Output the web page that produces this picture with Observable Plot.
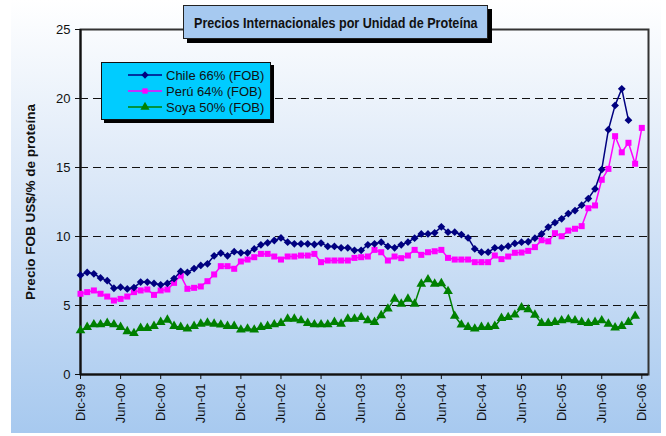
<!DOCTYPE html>
<html>
<head>
<meta charset="utf-8">
<script src="https://cdn.jsdelivr.net/npm/d3@7"></script>
<script src="https://cdn.jsdelivr.net/npm/@observablehq/plot@0.6"></script>
<style>
  html, body { margin: 0; padding: 0; background: #ffffff; }
  #wrap { position: relative; width: 666px; height: 436px; overflow: hidden; background: #ffffff; }
  #bg { position: absolute; left: 11px; top: 0; width: 650px; height: 433px;
        background: linear-gradient(to bottom, #ffffff 0%, #dde9f8 40%, #a7c9ef 100%); }
  #chart { position: absolute; left: 0; top: 0; }
  #title { position: absolute; left: 183px; top: 5px; width: 303px; height: 32px;
           background: #a6c9f0; border: 1px solid #222; box-shadow: 4px 4px 0 #000;
           font-family: "Liberation Sans", Arial, sans-serif;
           font-size: 15px; font-weight: bold; color: #111; display: flex;
           align-items: center; justify-content: center; white-space: nowrap; }
  #title span { display: inline-block; transform: scaleX(0.84); }
  #legend { position: absolute; left: 101px; top: 62px; width: 168px; height: 56px;
            background: #00ccff; border: 1px solid #111; box-shadow: 3px 3px 0 #000;
            font-family: "Liberation Sans", Arial, sans-serif;
            font-size: 13px; color: #111; }
  .row { position: absolute; left: 0; height: 16px; display: flex; align-items: center; white-space: nowrap; }
  .row svg { margin-left: 26px; margin-right: 4px; }
</style>
</head>
<body>
<div id="wrap">
  <div id="bg"></div>
  <div id="chart"></div>
  <div id="title"><span>Precios Internacionales por Unidad de Proteína</span></div>
  <div id="legend"></div>
</div>
<script>
// ---- categories (monthly, Dic-99 .. Ene-07) ----
const mesNames = ["Ene","Feb","Mar","Abr","May","Jun","Jul","Ago","Sep","Oct","Nov","Dic"];
const months = [];
for (let k = 0; k < 86; k++) {
  const m = (11 + k) % 12;
  const y = (99 + Math.floor((11 + k) / 12)) % 100;
  months.push(mesNames[m] + "-" + String(y).padStart(2, "0"));
}
const tickLabels = ["Dic-99","Jun-00","Dic-00","Jun-01","Dic-01","Jun-02","Dic-02","Jun-03",
                    "Dic-03","Jun-04","Dic-04","Jun-05","Dic-05","Jun-06","Dic-06"];
const yTicks = [0, 5, 10, 15, 20, 25];
const gridValues = [5, 10, 15, 20];

// ---- series (US$ per % protein), starting Dic-99 ----
const chile = [7.2,7.4,7.3,7.0,6.8,6.25,6.33,6.2,6.3,6.7,6.7,6.6,6.5,6.6,6.95,7.47,7.4,7.68,7.9,8.02,
  8.6,8.8,8.6,8.9,8.82,8.82,9.1,9.4,9.54,9.71,9.9,9.59,9.47,9.47,9.47,9.42,9.52,9.28,9.28,9.18,
  9.18,9.0,9.0,9.4,9.47,9.59,9.28,9.18,9.4,9.59,9.88,10.19,10.19,10.27,10.7,10.31,10.31,10.14,9.9,9.1,
  8.86,8.86,9.18,9.18,9.3,9.5,9.59,9.62,9.88,10.19,10.68,11.0,11.28,11.66,11.88,12.27,12.75,13.45,14.85,17.74,
  19.5,20.7,18.43];
const peru = [5.85,5.97,6.09,5.85,5.65,5.36,5.48,5.65,5.97,6.09,6.16,5.77,6.09,6.16,6.64,7.17,6.21,6.28,6.38,6.76,
  7.25,7.85,7.85,7.66,8.19,8.33,8.5,8.74,8.74,8.55,8.33,8.55,8.55,8.62,8.62,8.74,8.14,8.26,8.26,8.26,
  8.26,8.45,8.5,8.55,9.03,8.86,8.26,8.55,8.43,8.62,9.03,8.67,8.86,8.93,9.03,8.45,8.33,8.33,8.33,8.14,
  8.14,8.14,8.62,8.36,8.55,8.82,8.84,8.96,9.23,9.73,9.65,10.24,10.02,10.43,10.56,10.75,12.05,12.25,14.11,14.9,
  17.27,16.1,16.79,15.27,17.87];
const soya = [3.19,3.43,3.62,3.62,3.72,3.62,3.43,3.12,2.99,3.36,3.36,3.5,3.79,3.96,3.5,3.43,3.31,3.5,3.67,3.74,
  3.67,3.6,3.5,3.5,3.24,3.31,3.24,3.43,3.5,3.62,3.72,4.03,4.03,3.91,3.72,3.62,3.62,3.62,3.79,3.67,
  4.03,4.03,4.15,3.91,3.79,4.28,4.76,5.48,5.12,5.48,5.12,6.57,6.88,6.57,6.6,6.03,4.24,3.6,3.43,3.31,
  3.43,3.43,3.5,4.08,4.15,4.33,4.85,4.71,4.32,3.72,3.72,3.79,3.91,3.99,3.91,3.79,3.72,3.79,3.91,3.67,
  3.4,3.5,3.79,4.24];

const seriesNames = ["Chile 66% (FOB)", "Perú 64% (FOB)", "Soya 50% (FOB)"];
const seriesColors = ["#000080", "#ff00ff", "#008000"];
const seriesSymbols = ["diamond2", "square", "triangle"];

const toRows = (vals, s) => vals.map((v, i) => ({month: months[i], value: v, serie: s}));
const rowsChile = toRows(chile, seriesNames[0]);
const rowsPeru = toRows(peru, seriesNames[1]);
const rowsSoya = toRows(soya, seriesNames[2]);

const font = '"Liberation Sans", Arial, sans-serif';

const chart = Plot.plot({
  width: 666,
  height: 436,
  marginLeft: 80,
  marginRight: 18,
  marginTop: 29,
  marginBottom: 62,
  style: {background: "transparent", fontFamily: font, fontSize: "12px", color: "#111", overflow: "visible"},
  x: {type: "point", domain: months, padding: 0, label: null},
  y: {domain: [0, 25], label: null},
  marks: [
    Plot.ruleY(gridValues, {stroke: "#111", strokeWidth: 1, strokeDasharray: "8,5"}),
    Plot.frame({stroke: "#333", strokeWidth: 2}),
    Plot.ruleX([months[0]], {stroke: "#111", strokeWidth: 2}),
    Plot.ruleY([0], {stroke: "#111", strokeWidth: 2}),
    Plot.axisY({ticks: yTicks, tickSize: 5, tickPadding: 5, fontSize: 13, stroke: "#111",
      label: "Precio FOB US$/% de proteína", labelAnchor: "center", labelOffset: 55, labelArrow: "none"}),
    Plot.axisX({ticks: tickLabels, tickRotate: -90, tickSize: 5, tickPadding: 4, fontSize: 13,
      stroke: "#111", label: null}),
    Plot.line(rowsSoya, {x: "month", y: "value", stroke: seriesColors[2], strokeWidth: 1.5}),
    Plot.dot(rowsSoya, {x: "month", y: "value", fill: seriesColors[2], stroke: "none", symbol: seriesSymbols[2], r: 3.6}),
    Plot.line(rowsPeru, {x: "month", y: "value", stroke: seriesColors[1], strokeWidth: 1.5}),
    Plot.dot(rowsPeru, {x: "month", y: "value", fill: seriesColors[1], stroke: "none", symbol: seriesSymbols[1], r: 3.4}),
    Plot.line(rowsChile, {x: "month", y: "value", stroke: seriesColors[0], strokeWidth: 1.5}),
    Plot.dot(rowsChile, {x: "month", y: "value", fill: seriesColors[0], stroke: "none", symbol: seriesSymbols[0], r: 3.5})
  ]
});
document.getElementById("chart").appendChild(chart);
// y-axis title bolder, like the reference
d3.select(chart).selectAll("text").filter(function() { return this.textContent.startsWith("Precio FOB"); })
  .attr("font-weight", "bold").attr("font-size", 13.5);

// legend
const legend = document.getElementById("legend");
const symPaths = [
  d3.symbol(d3.symbolDiamond2, 3.3 * 3.3 * Math.PI)(),
  d3.symbol(d3.symbolSquare, 3.0 * 3.0 * Math.PI)(),
  d3.symbol(d3.symbolTriangle, 3.4 * 3.4 * Math.PI)()
];
seriesNames.forEach((name, i) => {
  const row = document.createElement("div");
  row.className = "row";
  row.style.top = (4 + i * 16) + "px";
  row.innerHTML = `<svg width="34" height="12"><line x1="0" x2="34" y1="6" y2="6" stroke="${seriesColors[i]}" stroke-width="1.5"/>` +
    `<path transform="translate(17,6)" d="${symPaths[i]}" fill="${seriesColors[i]}"/></svg><span>${name}</span>`;
  legend.appendChild(row);
});
</script>
</body>
</html>
